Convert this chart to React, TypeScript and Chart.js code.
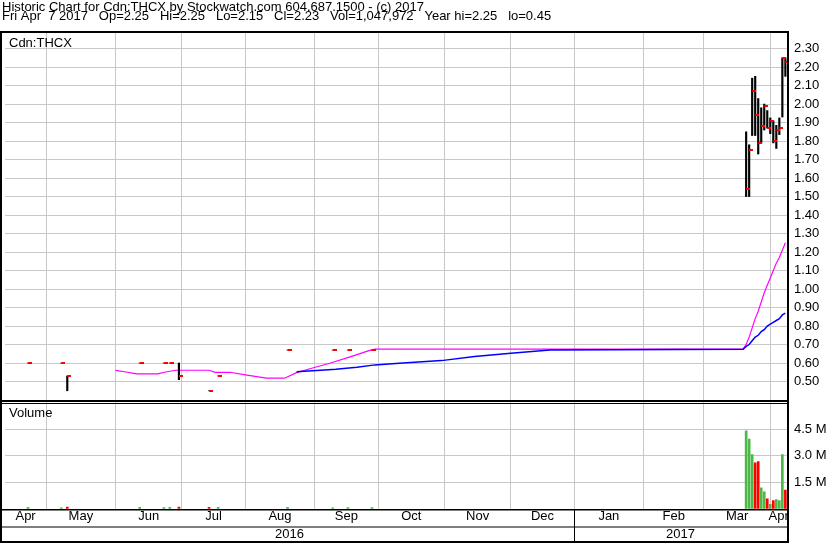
import React, { useEffect, useRef } from "react";
import { Chart, registerables } from "chart.js";

Chart.register(...registerables);

const FONT = "Arial, 'Liberation Sans', sans-serif";

// ---- data ----
const barDates = [
  "2016-04-21", "2016-05-06", "2016-05-10", "2016-06-13", "2016-06-23", "2016-06-27", "2016-06-30",
  "2016-07-14", "2016-07-19", "2016-08-19", "2016-09-09", "2016-09-16", "2016-09-28",
  "2017-03-21", "2017-03-22", "2017-03-23", "2017-03-24", "2017-03-27", "2017-03-28", "2017-03-29",
  "2017-03-30", "2017-03-31", "2017-04-03", "2017-04-04", "2017-04-05", "2017-04-06", "2017-04-07",
];
const highs = [
  0.6, 0.6, 0.53, 0.6, 0.6, 0.6, 0.6, 0.45, 0.53, 0.67, 0.67, 0.67, 0.67,
  1.85, 1.78, 2.14, 2.15, 2.03, 1.98, 2.0, 1.965, 1.925, 1.91, 1.885, 1.925, 2.25, 2.25,
];
const lows = [
  0.6, 0.6, 0.45, 0.6, 0.6, 0.6, 0.51, 0.45, 0.53, 0.67, 0.67, 0.67, 0.67,
  1.5, 1.5, 1.83, 1.83, 1.73, 1.79, 1.86, 1.87, 1.84, 1.79, 1.76, 1.835, 1.93, 2.15,
];
const closes = [
  0.6, 0.6, 0.53, 0.6, 0.6, 0.6, 0.53, 0.45, 0.53, 0.67, 0.67, 0.67, 0.67,
  1.54, 1.75, 2.07, 1.94, 1.79, 1.88, 1.99, 1.87, 1.91, 1.8, 1.86, 1.87, 2.25, 2.23,
];
const volumes = [
  60000, 40000, 80000, 60000, 50000, 60000, 80000, 70000, 60000, 70000, 40000, 50000, 50000,
  4410000, 3940000, 3060000, 2590000, 2660000, 1170000, 950000, 550000, 230000, 450000, 510000,
  450000, 3060000, 1047972,
];

const fastMaDates = [
  "2016-06-01", "2016-06-06", "2016-06-10", "2016-06-21", "2016-06-24", "2016-06-29", "2016-07-14",
  "2016-07-18", "2016-07-25", "2016-08-01", "2016-08-10", "2016-08-18", "2016-08-24", "2016-08-31",
  "2016-09-08", "2016-09-19", "2016-09-27", "2016-09-29", "2017-03-20",
  "2017-03-21", "2017-03-22", "2017-03-23", "2017-03-24", "2017-03-27", "2017-03-28", "2017-03-29",
  "2017-03-30", "2017-03-31", "2017-04-03", "2017-04-04", "2017-04-05", "2017-04-06", "2017-04-07",
];
const fastMaValues = [
  0.56, 0.553, 0.541, 0.541, 0.553, 0.561, 0.561, 0.55, 0.55, 0.536, 0.518, 0.518, 0.548, 0.572,
  0.599, 0.635, 0.667, 0.675, 0.675,
  0.7, 0.74, 0.79, 0.84, 0.88, 0.93, 0.98, 1.02, 1.06, 1.1, 1.14, 1.17, 1.21, 1.25,
];

const slowMaDates = [
  "2016-08-24", "2016-09-05", "2016-09-12", "2016-09-21", "2016-09-29", "2016-10-11", "2016-10-31",
  "2016-11-15", "2016-12-01", "2016-12-20", "2017-03-20",
  "2017-03-21", "2017-03-22", "2017-03-23", "2017-03-24", "2017-03-27", "2017-03-28", "2017-03-29",
  "2017-03-30", "2017-03-31", "2017-04-03", "2017-04-04", "2017-04-05", "2017-04-06", "2017-04-07",
];
const slowMaValues = [
  0.553, 0.561, 0.566, 0.577, 0.59, 0.599, 0.613, 0.635, 0.653, 0.671, 0.675,
  0.69, 0.7, 0.72, 0.74, 0.75, 0.77, 0.78, 0.8, 0.81, 0.82, 0.83, 0.84, 0.86, 0.87,
];

const monthStarts = [
  "2016-05-01", "2016-06-01", "2016-07-01", "2016-08-01", "2016-09-01", "2016-10-01",
  "2016-11-01", "2016-12-01", "2017-01-01", "2017-02-01", "2017-03-01", "2017-04-01",
];
const monthLabels = ["Apr", "May", "Jun", "Jul", "Aug", "Sep", "Oct", "Nov", "Dec", "Jan", "Feb", "Mar", "Apr"];
const yearStart = "2017-01-01";
const yearLabels = ["2016", "2017"];
const priceTicks = [0.5, 0.6, 0.7, 0.8, 0.9, 1.0, 1.1, 1.2, 1.3, 1.4, 1.5, 1.6, 1.7, 1.8, 1.9, 2.0, 2.1, 2.2, 2.3];
const volumeTicks = [1500000, 3000000, 4500000];

const firstDay = "2016-04-11";
const lastDay = "2017-04-07";

const title1 = "Historic Chart for Cdn:THCX by Stockwatch.com 604.687.1500 - (c) 2017";
const title2 = "Fri Apr  7 2017   Op=2.25   Hi=2.25   Lo=2.15   Cl=2.23   Vol=1,047,972   Year hi=2.25   lo=0.45";
const symbol = "Cdn:THCX";

// weekday index (weekends fall back onto the preceding Friday)
const ORIGIN = Date.UTC(2016, 3, 4);
function wd(s: string): number {
  const [y, m, d] = s.split("-").map(Number);
  const days = Math.round((Date.UTC(y, m - 1, d) - ORIGIN) / 86400000);
  return Math.floor(days / 7) * 5 + Math.min(days % 7, 4);
}

export default function App() {
  const ref = useRef<HTMLCanvasElement | null>(null);

  useEffect(() => {
    const canvas = ref.current;
    if (!canvas) return;

    const X_MIN = wd(firstDay) + 0.36;
    const X_MAX = wd(lastDay) + 0.54;
    const grid = monthStarts.map(wd);
    const bounds = [X_MIN, ...grid, X_MAX];
    const monthCenters = monthLabels.map((_, i) => (bounds[i] + bounds[i + 1]) / 2);
    const yBound = wd(yearStart);
    const yearCenters = [(X_MIN + yBound) / 2, (yBound + X_MAX) / 2];

    const tick = document.createElement("canvas");
    tick.width = 8;
    tick.height = 2;
    const tctx = tick.getContext("2d")!;
    tctx.fillStyle = "#ff0000";
    tctx.fillRect(4, 0, 4, 2);

    const volColors = closes.map((c, i) => (i === 0 || c >= closes[i - 1] ? "#4cb848" : "#ff0000"));

    const frame = {
      id: "frame",
      afterDraw(chart: any) {
        const ctx = chart.ctx as CanvasRenderingContext2D;
        const ca = chart.chartArea;
        const yv = chart.scales.yv;
        const xy = chart.scales.xy;
        const xs = chart.scales.x;
        const W = ca.right + 2;
        const H = chart.height;
        ctx.save();
        ctx.fillStyle = "#000";
        ctx.font = `13px ${FONT}`;
        ctx.textBaseline = "alphabetic";
        ctx.textAlign = "left";
        ctx.fillText(title1, 2, 10.5);
        ctx.fillText(title2, 2, 20);
        ctx.fillText(symbol, 9, 46.5);
        ctx.fillText("Volume", 9, yv.top + 16);
        // frame lines
        ctx.fillRect(0, ca.top - 1, W, 2);
        ctx.fillRect(0, ca.top - 1, 2, H - ca.top + 1);
        ctx.fillRect(ca.right, ca.top - 1, 2, H - ca.top + 1);
        ctx.fillRect(0, yv.top - 1, W, 2);
        ctx.fillRect(0, yv.top + 2, W, 1);
        ctx.fillRect(0, ca.bottom - 0.5, W, 1.5);
        ctx.fillRect(0, xy.top, W, 1);
        ctx.fillRect(0, H - 2, W, 2);
        const jx = Math.round(xs.getPixelForValue(yBound));
        ctx.fillRect(jx, ca.bottom, 1, H - ca.bottom);
        ctx.restore();
      },
    };

    const xCommon = {
      type: "linear",
      position: "bottom",
      min: X_MIN,
      max: X_MAX,
      offset: false,
      bounds: "data",
      border: { display: false },
    };

    const chart = new Chart(canvas, {
      type: "bar",
      data: {
        datasets: [
          {
            type: "line",
            label: "close",
            data: barDates.map((d, i) => ({ x: wd(d), y: closes[i] })),
            showLine: false,
            pointStyle: tick as any,
            pointRadius: 4,
            xAxisID: "x",
            yAxisID: "y",
            order: 0,
          } as any,
          {
            type: "bar",
            label: "range",
            data: barDates.map((d, i) => ({ x: wd(d), y: [lows[i], highs[i]] })),
            backgroundColor: "#000",
            barThickness: 1.5,
            grouped: false,
            xAxisID: "x",
            yAxisID: "y",
            order: 1,
          } as any,
          {
            type: "line",
            label: "slow",
            data: slowMaDates.map((d, i) => ({ x: wd(d), y: slowMaValues[i] })),
            borderColor: "#0000ff",
            borderWidth: 1.5,
            pointRadius: 0,
            tension: 0,
            xAxisID: "x",
            yAxisID: "y",
            order: 2,
          } as any,
          {
            type: "line",
            label: "fast",
            data: fastMaDates.map((d, i) => ({ x: wd(d), y: fastMaValues[i] })),
            borderColor: "#ff00ff",
            borderWidth: 1.2,
            pointRadius: 0,
            tension: 0,
            xAxisID: "x",
            yAxisID: "y",
            order: 3,
          } as any,
          {
            type: "bar",
            label: "volume",
            data: barDates.map((d, i) => ({ x: wd(d), y: volumes[i] })),
            backgroundColor: volColors,
            barThickness: 2,
            grouped: false,
            xAxisID: "x",
            yAxisID: "yv",
            order: 4,
          } as any,
        ],
      },
      options: {
        animation: false,
        responsive: false,
        events: [],
        layout: { padding: { top: 32, left: 3, right: 0, bottom: 0 } },
        plugins: { legend: { display: false }, tooltip: { enabled: false }, title: { display: false } },
        scales: {
          x: {
            ...xCommon,
            weight: 0,
            grid: { color: "#c8c8c8", lineWidth: 1, drawTicks: false, offset: false },
            ticks: { display: false },
            afterBuildTicks: (s: any) => {
              s.ticks = grid.map((v) => ({ value: v }));
            },
            afterFit: (s: any) => {
              s.height = 0;
            },
          },
          xm: {
            ...xCommon,
            weight: 1,
            grid: { display: false, drawTicks: false, offset: false },
            ticks: {
              autoSkip: false,
              maxRotation: 0,
              padding: 0,
              color: "#000",
              font: { family: FONT, size: 13, lineHeight: 1 },
              callback: (_v: any, i: number) => monthLabels[i],
            },
            afterBuildTicks: (s: any) => {
              s.ticks = monthCenters.map((v) => ({ value: v }));
            },
            afterFit: (s: any) => {
              s.height = 17;
            },
          },
          xy: {
            ...xCommon,
            weight: 2,
            grid: { display: false, drawTicks: false, offset: false },
            ticks: {
              autoSkip: false,
              maxRotation: 0,
              padding: 1.5,
              color: "#000",
              font: { family: FONT, size: 13, lineHeight: 1 },
              callback: (_v: any, i: number) => yearLabels[i],
            },
            afterBuildTicks: (s: any) => {
              s.ticks = yearCenters.map((v) => ({ value: v }));
            },
            afterFit: (s: any) => {
              s.height = 16.5;
            },
          },
          y: {
            type: "linear",
            position: "right",
            stack: "panes",
            stackWeight: 369,
            weight: 0,
            min: 0.3947,
            max: 2.3897,
            grid: { color: "#c8c8c8", lineWidth: 1, drawTicks: false },
            border: { display: false },
            ticks: {
              autoSkip: false,
              padding: 7,
              color: "#000",
              font: { family: FONT, size: 13 },
              callback: (v: any) => Number(v).toFixed(2),
            },
            afterBuildTicks: (s: any) => {
              s.ticks = priceTicks.map((v) => ({ value: v }));
            },
            afterFit: (s: any) => {
              s.width = 43;
            },
          },
          yv: {
            type: "linear",
            position: "right",
            stack: "panes",
            stackWeight: 108.5,
            weight: 1,
            min: -57000,
            max: 6108000,
            grid: { color: "#c8c8c8", lineWidth: 1, drawTicks: false },
            border: { display: false },
            ticks: {
              autoSkip: false,
              padding: 7,
              color: "#000",
              font: { family: FONT, size: 13 },
              callback: (v: any) => (Number(v) / 1e6).toFixed(1) + " M",
            },
            afterBuildTicks: (s: any) => {
              s.ticks = volumeTicks.map((v) => ({ value: v }));
            },
            afterFit: (s: any) => {
              s.width = 43;
            },
          },
        },
      } as any,
      plugins: [frame],
    });

    return () => chart.destroy();
  }, []);

  return (
    <div style={{ position: "fixed", left: 0, top: 0, width: 830, height: 543, background: "#fff" }}>
      <canvas ref={ref} width={830} height={543} style={{ width: 830, height: 543, display: "block" }} />
    </div>
  );
}
